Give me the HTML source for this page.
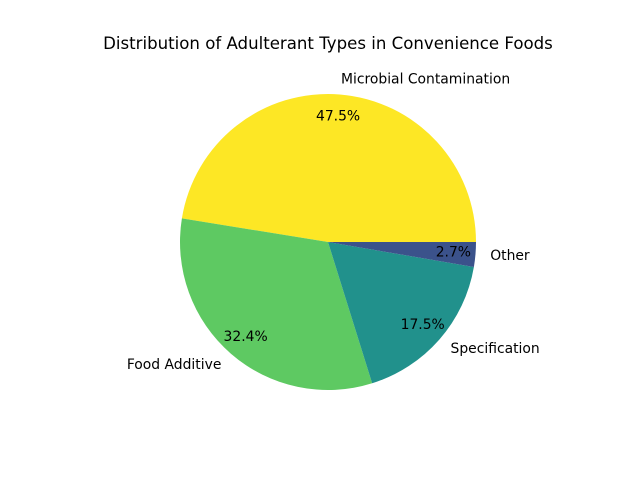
<!DOCTYPE html>
<html><head><meta charset="utf-8"><style>
body{margin:0;background:#fff}
text{font-family:"DejaVu Sans","Liberation Sans",sans-serif}
</style></head><body>
<svg id="chart" width="640" height="480">
<rect width="640" height="480" fill="#fff"/>
<text x="328" y="49" font-size="16.6" text-anchor="middle">Distribution of Adulterant Types in Convenience Foods</text>
<g id="slices"></g>
</svg>
<script>
const categories=["Microbial Contamination","Food Additive","Specification","Other"];
const values=[47.5,32.4,17.5,2.7];
const colors=["#fde725","#5ec962","#21918c","#3b528b"];
const cx=328,cy=242,r=148;
const g=document.getElementById('slices');
const ns="http://www.w3.org/2000/svg";
const total=values.reduce((a,b)=>a+b,0);
let a0=0;
function pt(a,d){const t=a*Math.PI/180;return [cx+d*Math.cos(t),cy-d*Math.sin(t)];}
values.forEach((v,i)=>{
  const a1=a0+v/total*360;
  const p0=pt(a0,r),p1=pt(a1,r);
  const path=document.createElementNS(ns,'path');
  path.setAttribute('d',`M${cx},${cy}L${p0[0]},${p0[1]}A${r},${r} 0 ${a1-a0>180?1:0} 0 ${p1[0]},${p1[1]}Z`);
  path.setAttribute('fill',colors[i]);
  
  
  g.appendChild(path);
  const m=(a0+a1)/2;
  const lp=pt(m,r*1.1);
  const lt=document.createElementNS(ns,'text');
  lt.setAttribute('x',lp[0]);lt.setAttribute('y',lp[1]+4);
  lt.setAttribute('font-size','13.9');
  lt.setAttribute('text-anchor',Math.cos(m*Math.PI/180)>=0?'start':'end');
  lt.textContent=categories[i];
  
  
  g.appendChild(lt);
  const pp=pt(m,r*0.85);
  const pt2=document.createElementNS(ns,'text');
  pt2.setAttribute('x',pp[0]);pt2.setAttribute('y',pp[1]+4);
  pt2.setAttribute('font-size','13.9');
  pt2.setAttribute('text-anchor','middle');
  pt2.textContent=(v/total*100).toFixed(1)+'%';
  
  
  g.appendChild(pt2);
  a0=a1;
});
</script>
</body></html>
